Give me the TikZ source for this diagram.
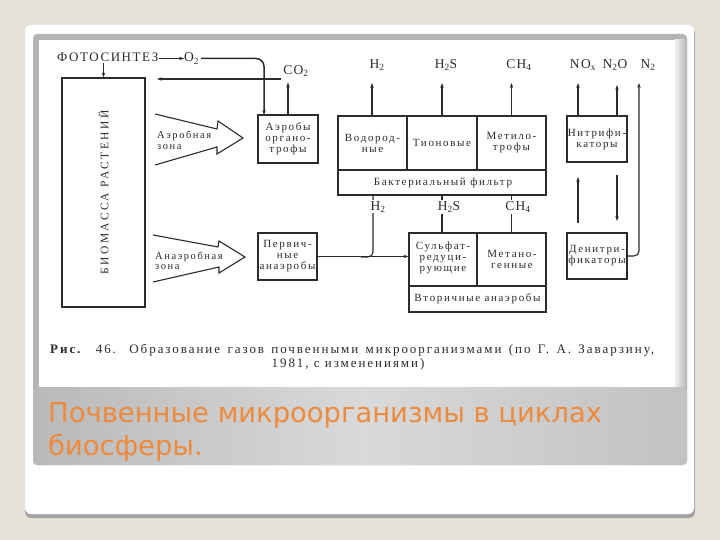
\documentclass[tikz,border=0pt]{standalone}
\usepackage{fontspec}
\setmainfont{Liberation Serif}
\newfontfamily\figfont[LetterSpace=15]{Liberation Serif}
\newfontfamily\labfont[LetterSpace=10]{Liberation Serif}
\newfontfamily\fotofont[LetterSpace=12]{Liberation Serif}
\newfontfamily\widefont[LetterSpace=22]{Liberation Serif}
\newfontfamily\titlefont{DejaVu Sans}
\usetikzlibrary{arrows.meta,calc}
\definecolor{bgc}{HTML}{E6E1D9}
\definecolor{shadowc}{HTML}{A4A4A4}
\definecolor{panelc}{HTML}{B4B4B4}
\definecolor{bandL}{HTML}{B9B9B9}
\definecolor{bandM}{HTML}{D9D9D9}
\definecolor{bandR}{HTML}{C2C2C2}
\definecolor{titlec}{HTML}{EE8A3C}
\definecolor{ink}{HTML}{2B2B2B}
\begin{document}
\begin{tikzpicture}[x=1pt,y=-1pt,
  ln/.style={draw=ink, line width=1.1pt},
  arr/.style={ln, -{Stealth[length=5pt,width=3.4pt]}},
  box/.style={draw=ink, line width=1.1pt, inner sep=0pt},
  cell/.style={inner sep=0pt, align=center, text=ink, font=\figfont\fontsize{11}{11}\selectfont},
  lbl/.style={inner sep=1pt, text=ink, font=\labfont\fontsize{13.5}{13.5}\selectfont},
  zone/.style={anchor=base west, inner sep=0pt, text=ink, font=\figfont\fontsize{10.5}{10.5}\selectfont},
  hollow/.style={draw=ink, line width=1.1pt, line join=miter}
]
\useasboundingbox (0,0) rectangle (720,540);
% slide background and frame
\fill[bgc] (0,0) rectangle (720,540);
\fill[shadowc, rounded corners=6pt] (25,28) rectangle (695,518);
\fill[white, rounded corners=6pt] (25,25) rectangle (694,514);
\fill[panelc, rounded corners=4pt] (33,34) rectangle (687,465);
\shade[left color=white!80!panelc, right color=panelc] (675,40) rectangle (687,387);
\fill[white] (39,40) rectangle (675,387);
\shade[left color=bandL, right color=bandR, middle color=bandM, rounded corners=4pt] (33,387) rectangle (687,465);
% title
\node[anchor=base west, inner sep=0pt, text=titlec, font=\titlefont\fontsize{27.4}{33}\selectfont] (t1) at (48,422) {Почвенные микроорганизмы в циклах};
\node[anchor=base west, inner sep=0pt, text=titlec, font=\titlefont\fontsize{27.4}{33}\selectfont] (t2) at (48,455) {биосферы.};
% caption
\node[anchor=base west, inner sep=0pt, text=ink, font=\figfont\fontsize{13}{14}\selectfont] (cap1) at (50,353)
  {\makebox[604pt][s]{\textbf{Рис.} 46. Образование газов почвенными микроорганизмами (по Г. А. Заварзину,}};
\node[anchor=base, inner sep=0pt, text=ink, font=\figfont\fontsize{13}{14}\selectfont] (cap2) at (348,367) {1981, с изменениями)};

% ---------- diagram ----------
\node[anchor=base west, inner sep=0pt, text=ink, font=\fotofont\fontsize{13}{13}\selectfont] (foto) at (57,62) {ФОТОСИНТЕЗ};
\node[anchor=base west, inner sep=0pt, text=ink, font=\labfont\fontsize{13.5}{13.5}\selectfont] (o2) at (184,62) {O\textsubscript{2}};
\node[box, minimum width=83pt, minimum height=229pt] (bio) at (103.5,192.5) {};
\node[rotate=90, inner sep=0pt, text=ink, font=\widefont\fontsize{11.5}{12}\selectfont] (biot) at (bio.center) {БИОМАССА РАСТЕНИЙ};

\node[box, minimum width=60pt, minimum height=48pt] (aerob) at (288,139) {};
\node[cell] at (aerob.center) {Аэробы\\органо-\\трофы};
\node[lbl] (co2) at (296,71) {CO\textsubscript{2}};

\node[box, minimum width=208pt, minimum height=79pt] (big) at (442,155.5) {};
\draw[ln] (338,170) -- (546,170);
\draw[ln] (407,116) -- (407,170);
\draw[ln] (477,116) -- (477,170);
\node[cell] at (372.5,143) {Водород-\\ные};
\node[cell] at (442,143) {Тионовые};
\node[cell] at (511.5,143) {Метило-\\трофы};
\node[cell] at (443,183) {Бактериальный фильтр};

\node[box, minimum width=60pt, minimum height=46pt] (nitr) at (597,139) {};
\node[cell] at (nitr.center) {Нитрифи-\\каторы};

\node[box, minimum width=59pt, minimum height=47pt] (perv) at (287.5,256.5) {};
\node[cell] at (perv.center) {Первич-\\ные\\анаэробы};

\node[box, minimum width=137pt, minimum height=79pt] (sulf) at (477.5,272.5) {};
\draw[ln] (409,286) -- (546,286);
\draw[ln] (477,233) -- (477,286);
\node[cell] at (443,258) {Сульфат-\\редуци-\\рующие};
\node[cell] at (512,259) {Метано-\\генные};
\node[cell] at (477.5,299) {Вторичные анаэробы};

\node[box, minimum width=60pt, minimum height=46pt] (denitr) at (597,256) {};
\node[cell] at (denitr.center) {Денитри-\\фикаторы};

% upper gas labels
\node[lbl] (h2a) at (377,65) {H\textsubscript{2}};
\node[lbl] (h2sa) at (446,65) {H\textsubscript{2}S};
\node[lbl] (ch4a) at (519,65) {CH\textsubscript{4}};
\node[lbl] (noxa) at (583,65) {NO\textsubscript{x}};
\node[lbl] (n2oa) at (615,65) {N\textsubscript{2}O};
\node[lbl] (n2a) at (648,65) {N\textsubscript{2}};

\coordinate (xh2) at (372,83);
\coordinate (xh2s) at (442,83);
\coordinate (xch4) at (511.5,83);
\coordinate (xnox) at (578,83);
\coordinate (xn2o) at (617,85);
\coordinate (xn2) at (639,83);

% hollow zone arrows
\draw[hollow] (155,114) -- (217,129) -- (218,121) -- (243,138) -- (217,154) -- (217,147) -- (155,165);
\node[zone] (az1) at (157,139) {Аэробная};
\node[zone] (az2) at (157,150) {зона};
\draw[hollow] (153,235) -- (218,247) -- (219,241) -- (245,257) -- (219,273) -- (219,267) -- (153,282);
\node[zone] (an1) at (155,259) {Анаэробная};
\node[zone] (an2) at (155,269) {зона};

% connectors
\draw[arr] (foto.east |- 0,58.5) -- (o2.west |- 0,58.5);
\coordinate (fs) at (103.5,63);
\draw[arr] (fs) -- (bio.north);
\coordinate (o2e) at (201,58.5);
\coordinate (aerin) at (264,115);
\draw[arr, line width=1.5pt, rounded corners=8pt] (o2e) -| (aerin);
\coordinate (co2s) at (281,79);
\coordinate (bioin) at (157,79);
\draw[arr, line width=1.7pt] (co2s) -- (bioin);
\draw[arr] (aerob.north) -- ++(0,-32);

\draw[arr] (big.north -| xh2) -- (xh2);
\draw[arr] (big.north -| xh2s) -- (xh2s);
\draw[arr] (big.north -| xch4) -- (xch4);
\draw[arr] (nitr.north -| xnox) -- (xnox);
\draw[arr] (nitr.north -| xn2o) -- (xn2o);
\draw[arr, rounded corners=5pt] (denitr.east) -| (xn2);

\coordinate (ua1) at (578,223);
\coordinate (ua2) at (578,177);
\draw[arr] (ua1) -- (ua2);
\coordinate (da1) at (617,175);
\coordinate (da2) at (617,221);
\draw[arr] (da1) -- (da2);

\coordinate (j) at (373,257);
\draw[arr] (perv.east) -- (perv.east -| sulf.west);
\draw[ln, rounded corners=5pt] ($(j)+(-12,0)$) -| (big.south -| j);
\draw[ln] (big.south -| xh2s) -- (sulf.north -| xh2s);
\draw[ln] (big.south -| xch4) -- (sulf.north -| xch4);

\node[lbl, fill=white] (h2b) at (378,207) {H\textsubscript{2}};
\node[lbl, fill=white] (h2sb) at (449,207) {H\textsubscript{2}S};
\node[lbl, fill=white] (ch4b) at (518,207) {CH\textsubscript{4}};
\end{tikzpicture}
\end{document}
